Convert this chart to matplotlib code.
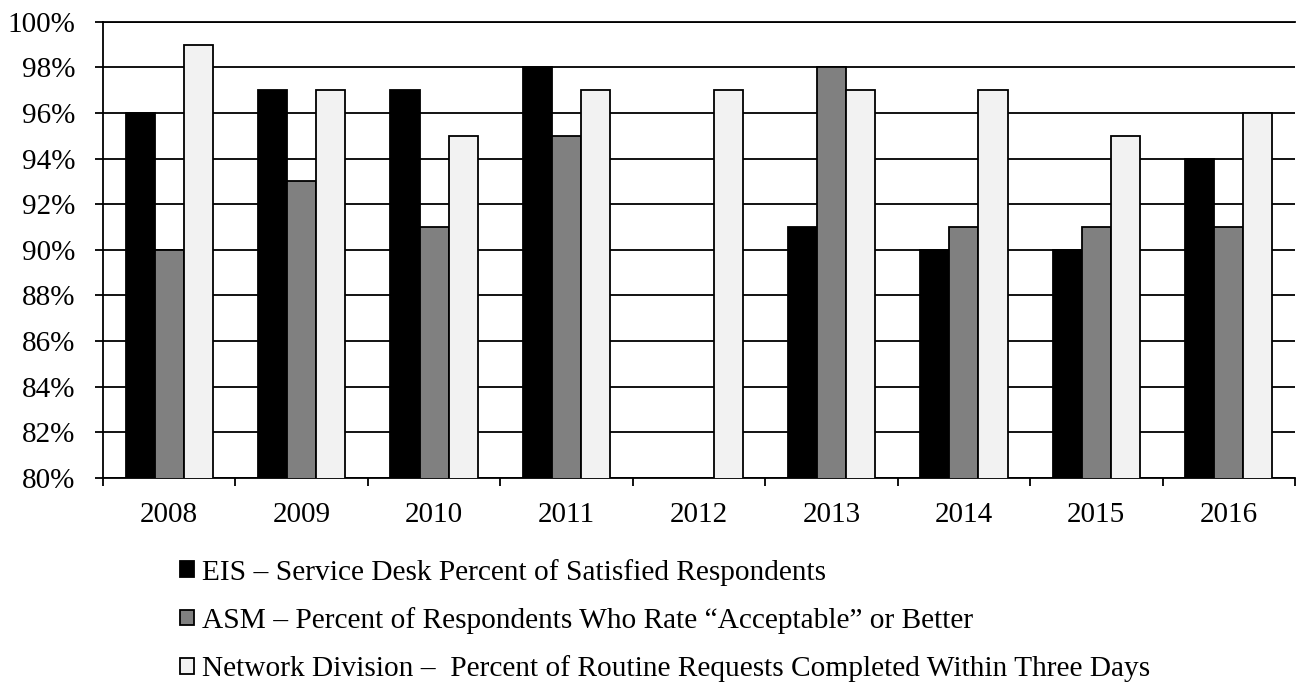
import numpy as np
import matplotlib
matplotlib.use("Agg")
import matplotlib.pyplot as plt
from matplotlib.ticker import FixedLocator, FuncFormatter

years = ["2008", "2009", "2010", "2011", "2012", "2013", "2014", "2015", "2016"]
eis = [96, 97, 97, 98, np.nan, 91, 90, 90, 94]
asm = [90, 93, 91, 95, np.nan, 98, 91, 91, 91]
network = [99, 97, 95, 97, 97, 97, 97, 95, 96]
labels = [
    "EIS \u2013 Service Desk Percent of Satisfied Respondents",
    "ASM \u2013 Percent of Respondents Who Rate \u201cAcceptable\u201d or Better",
    "Network Division \u2013  Percent of Routine Requests Completed Within Three Days",
]
colors = ["#000000", "#808080", "#f2f2f2"]

plt.rcParams["font.family"] = ["Liberation Serif", "DejaVu Serif"]
plt.rcParams["font.size"] = 21

fig = plt.figure(figsize=(12.99, 6.82), dpi=100)
ax = fig.add_axes([0.0793, 0.2991, 0.9176, 0.6691])

x = np.arange(len(years))
w = 0.22
for i, (vals, c, lab) in enumerate(zip([eis, asm, network], colors, labels)):
    ax.bar(x + (i - 1) * w, vals, width=w, color=c, edgecolor="black",
           linewidth=1.3, label=lab, zorder=3)

ax.set_xlim(-0.5, len(years) - 0.5)
ax.set_ylim(80, 100)
ax.set_yticks(np.arange(80, 101, 2))
ax.yaxis.set_major_formatter(FuncFormatter(lambda v, p: f"{v:.0f}%"))
ax.yaxis.grid(True, color="black", linewidth=1.3, zorder=0)
ax.set_axisbelow(True)

ax.set_xticks(x)
ax.set_xticklabels(years)
ax.xaxis.set_minor_locator(FixedLocator(np.arange(-0.5, len(years), 1.0)))
ax.tick_params(axis="x", which="major", length=0, pad=17)
ax.tick_params(axis="x", which="minor", length=5.5, width=1.3, direction="out")
ax.tick_params(axis="y", length=6, width=1.3, direction="out", pad=14)

for s in ["left", "bottom", "top"]:
    ax.spines[s].set_linewidth(1.3)
    ax.spines[s].set_color("black")
ax.spines["right"].set_visible(False)

leg = fig.legend(loc="upper left", bbox_to_anchor=(0.1386, 0.181),
                 bbox_transform=fig.transFigure, frameon=False,
                 handlelength=0.48, handleheight=0.45, handletextpad=0.27,
                 labelspacing=0.73, borderpad=0, borderaxespad=0, fontsize=21.2)

fig.savefig("out.png", dpi=100)
